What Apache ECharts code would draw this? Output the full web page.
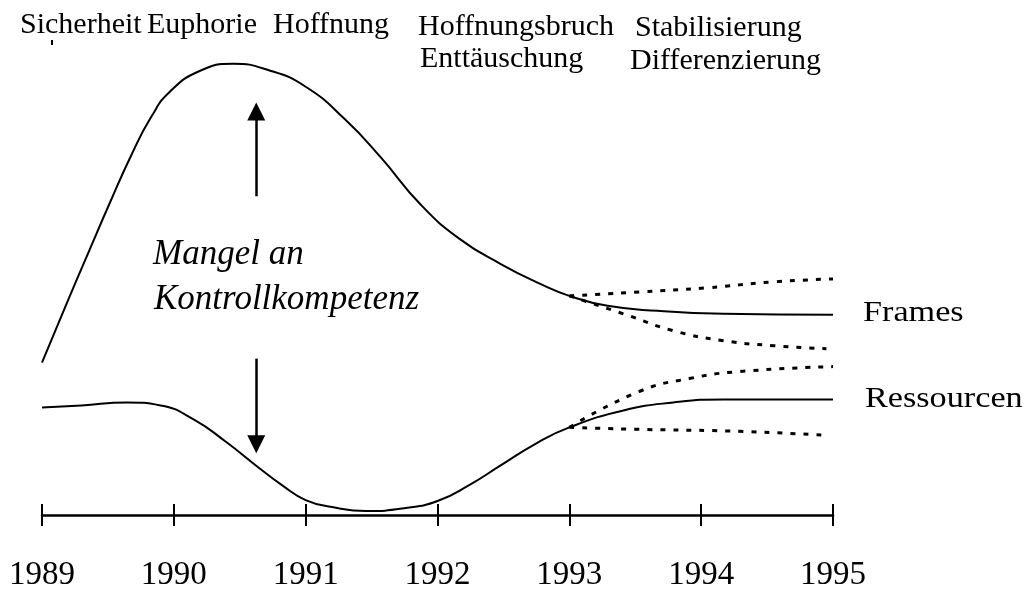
<!DOCTYPE html>
<html>
<head>
<meta charset="utf-8">
<script src="https://cdn.jsdelivr.net/npm/echarts@6/dist/echarts.min.js"></script>
<style>
html,body{margin:0;padding:0;background:#fff;}
#c{width:1028px;height:592px;}
</style>
</head>
<body>
<div id="c"></div>
<script>
// x positions in years, y in arbitrary units above baseline
const yearTicks = [1989, 1990, 1991, 1992, 1993, 1994, 1995];
const framesX = [1989.00, 1989.17, 1989.36, 1989.52, 1989.68, 1989.83, 1989.97, 1990.20, 1990.45, 1990.71, 1991.00, 1991.30, 1991.57, 1991.87, 1992.17, 1992.48, 1992.78, 1993.00, 1993.29, 1993.67, 1994.17, 1995.00];
const framesY = [153, 207, 266, 315, 362, 400, 425, 446, 453, 447, 430, 397, 359, 312, 277, 252, 232, 220, 210, 205, 202, 201];
const framesUpX = [1993.00, 1993.53, 1994.04, 1994.54, 1995.00];
const framesUpY = [220, 224, 228, 234, 237];
const framesLowX = [1993.00, 1993.41, 1993.79, 1994.17, 1994.55, 1994.95];
const framesLowY = [220, 202, 185, 175, 170, 167];
const resX = [1989.00, 1989.30, 1989.64, 1989.90, 1990.15, 1990.40, 1990.62, 1990.82, 1991.00, 1991.20, 1991.46, 1991.76, 1992.00, 1992.24, 1992.47, 1992.75, 1993.00, 1993.41, 1993.79, 1994.17, 1995.00];
const resY = [108, 110, 113, 110, 96, 73, 50, 30, 15, 8, 4, 7, 14, 30, 49, 72, 88, 105, 113, 116, 116];
const resUpX = [1993.00, 1993.53, 1993.91, 1994.29, 1995.00];
const resUpY = [88, 124, 137, 144, 149];
const resLowX = [1993.00, 1993.53, 1994.29, 1994.95];
const resLowY = [88, 86, 84, 80];
const phaseLabels = ['Sicherheit', 'Euphorie', 'Hoffnung', 'Hoffnungsbruch', 'Enttäuschung', 'Stabilisierung', 'Differenzierung'];
const seriesNames = ['Frames', 'Ressourcen'];
const centerText = ['Mangel an', 'Kontrollkompetenz'];
const arrowX = 1990.625;
const arrowUp = [320, 405];
const arrowDown = [157, 71];

function zip(xs, ys) { return xs.map((x, i) => [x, ys[i]]); }

const serif = '"Liberation Serif", "Times New Roman", serif';
const solid = { color: '#000', width: 2 };
const dotted = { color: '#000', width: 3, type: [5, 8] };

function lineSeries(name, xs, ys, ls) {
  return {
    name: name, type: 'line', xAxisIndex: 0, yAxisIndex: 0,
    data: zip(xs, ys), smooth: 0.5, showSymbol: false, symbol: 'none',
    lineStyle: ls, silent: true, animation: false, z: 3
  };
}

const chart = echarts.init(document.getElementById('c'), null, { renderer: 'canvas' });

const option = {
  animation: false,
  backgroundColor: '#fff',
  grid: { left: 42, right: 195, top: 17, bottom: 75 },
  xAxis: [
    {
      type: 'value', min: 1989, max: 1995, interval: 1, position: 'bottom',
      axisLine: { show: true, lineStyle: { color: '#000', width: 2.5 } },
      axisTick: { show: true, inside: true, length: 11, lineStyle: { color: '#000', width: 2 } },
      axisLabel: { show: true, margin: 44, color: '#000', fontFamily: serif, fontSize: 33, lineHeight: 33,
        formatter: v => String(v) },
      splitLine: { show: false }
    },
    {
      type: 'value', min: 1989, max: 1995, interval: 1, position: 'bottom', offset: 0,
      axisLine: { show: false },
      axisTick: { show: true, inside: false, length: 11, lineStyle: { color: '#000', width: 2 } },
      axisLabel: { show: false },
      splitLine: { show: false }
    }
  ],
  yAxis: {
    type: 'value', min: 0, max: 500, show: false,
    axisLine: { show: false }, axisTick: { show: false }, axisLabel: { show: false }, splitLine: { show: false }
  },
  series: [
    lineSeries(seriesNames[0], framesX, framesY, solid),
    lineSeries(seriesNames[0] + ' oben', framesUpX, framesUpY, dotted),
    lineSeries(seriesNames[0] + ' unten', framesLowX, framesLowY, dotted),
    lineSeries(seriesNames[1], resX, resY, solid),
    lineSeries(seriesNames[1] + ' oben', resUpX, resUpY, dotted),
    lineSeries(seriesNames[1] + ' unten', resLowX, resLowY, dotted),
    {
      type: 'line', data: [], xAxisIndex: 0, yAxisIndex: 0, silent: true,
      markLine: {
        silent: true, animation: false,
        symbol: ['none', 'triangle'], symbolSize: [18, 18],
        label: { show: false },
        lineStyle: { color: '#000', width: 2.5, type: 'solid' },
        data: [
          [{ coord: [arrowX, arrowUp[0]] }, { coord: [arrowX, arrowUp[1]] }],
          [{ coord: [arrowX, arrowDown[0]] }, { coord: [arrowX, arrowDown[1]] }]
        ]
      }
    }
  ],
  graphic: [
    { type: 'text', x: 20, y: 25, style: { text: phaseLabels[0], font: '30px ' + serif, fill: '#000', verticalAlign: 'middle' } },
    { type: 'text', x: 147, y: 25, style: { text: phaseLabels[1], font: '30px ' + serif, fill: '#000', verticalAlign: 'middle' } },
    { type: 'text', x: 273, y: 25, style: { text: phaseLabels[2], font: '30px ' + serif, fill: '#000', verticalAlign: 'middle' } },
    { type: 'text', x: 418, y: 27, style: { text: phaseLabels[3], font: '30px ' + serif, fill: '#000', verticalAlign: 'middle' } },
    { type: 'text', x: 420, y: 59, style: { text: phaseLabels[4], font: '30px ' + serif, fill: '#000', verticalAlign: 'middle' } },
    { type: 'text', x: 635, y: 28, style: { text: phaseLabels[5], font: '30px ' + serif, fill: '#000', verticalAlign: 'middle' } },
    { type: 'text', x: 630, y: 61, style: { text: phaseLabels[6], font: '30px ' + serif, fill: '#000', verticalAlign: 'middle' } },
    { type: 'rect', shape: { x: 51, y: 40, width: 2, height: 5 }, style: { fill: '#000' } },
    { type: 'text', x: 153, y: 255, style: { text: centerText[0], font: 'italic 35px ' + serif, fill: '#000', verticalAlign: 'middle' } },
    { type: 'text', x: 154, y: 300, style: { text: centerText[1], font: 'italic 35px ' + serif, fill: '#000', verticalAlign: 'middle' } },
    { type: 'text', x: 863, y: 313, scaleX: 1.14, style: { text: seriesNames[0], font: '30px ' + serif, fill: '#000', verticalAlign: 'middle' } },
    { type: 'text', x: 865, y: 399, scaleX: 1.14, style: { text: seriesNames[1], font: '30px ' + serif, fill: '#000', verticalAlign: 'middle' } }
  ]
};
chart.setOption(option);
</script>
</body>
</html>
